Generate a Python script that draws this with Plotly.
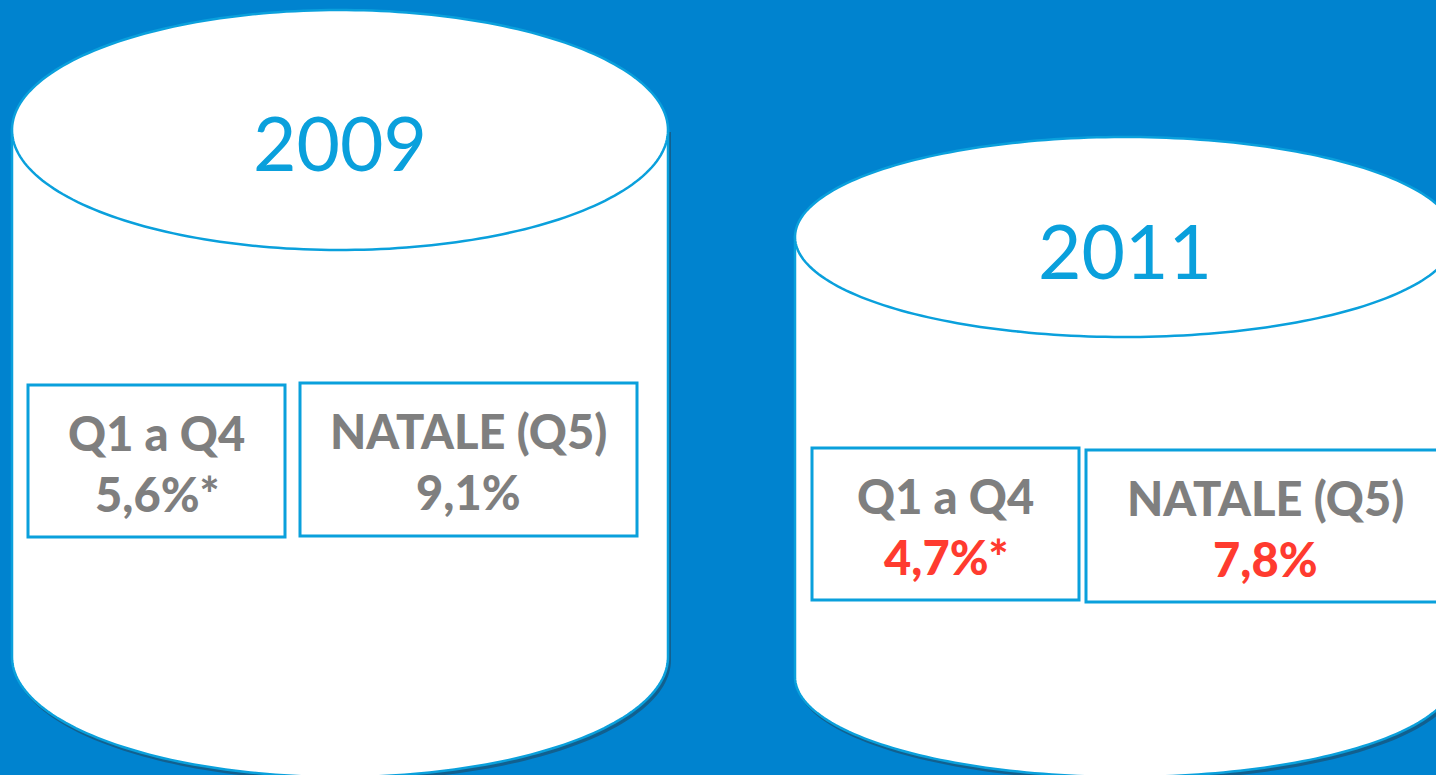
import numpy as np
import plotly.graph_objects as go

# ---- data ----
years = ["2009", "2011"]
period_labels = ["Q1 a Q4", "NATALE (Q5)"]
values_2009 = ["5,6%*", "9,1%"]
values_2011 = ["4,7%*", "7,8%"]
value_colors = ["#7F7F7F", "#FF3B2F"]

# ---- styling / geometry ----
BG = "#0083CF"
EDGE = "#0AA0DC"
SHADOW = "#12608F"
GRAY = "#7F7F7F"
W, H = 1436, 775

cyl = [
    dict(cx=340, a=328, cy=130, b=120, by=657),
    dict(cx=1125, a=330, cy=237, b=100, by=677),
]
boxes = [
    [(28, 385, 285, 537), (300, 383, 637, 536)],
    [(812, 448, 1079, 600), (1086, 450, 1445, 602)],
]
year_y = [142, 250]


def ellipse_pts(cx, cy, a, b, t0, t1, n=120):
    t = np.linspace(t0, t1, n)
    return cx + a * np.cos(t), cy + b * np.sin(t)


def body_path(c, dx=0, dy=0):
    cx, a, cy, b, by = c["cx"] + dx, c["a"], c["cy"] + dy, c["b"], c["by"] + dy
    xs, ys = ellipse_pts(cx, by, a, b, np.pi, 0)
    p = f"M {cx - a},{cy} L {cx - a},{by} "
    p += " ".join(f"L {x:.2f},{y:.2f}" for x, y in zip(xs, ys))
    p += f" L {cx + a},{cy} Z"
    return p


def top_path(c):
    xs, ys = ellipse_pts(c["cx"], c["cy"], c["a"], c["b"], 0, 2 * np.pi, 240)
    p = f"M {xs[0]:.2f},{ys[0]:.2f} " + " ".join(
        f"L {x:.2f},{y:.2f}" for x, y in zip(xs[1:], ys[1:])
    )
    return p + " Z"


fig = go.Figure()
fig.add_trace(go.Scatter(x=[0, W], y=[0, H], mode="markers",
                         marker=dict(opacity=0), hoverinfo="skip",
                         showlegend=False))

shapes = []
annotations = []
all_values = [values_2009, values_2011]
for i, c in enumerate(cyl):
    shapes.append(dict(type="path", path=body_path(c, 2, 3), xref="x", yref="y",
                       fillcolor=SHADOW, line=dict(color=SHADOW, width=2)))
    shapes.append(dict(type="path", path=body_path(c), xref="x", yref="y",
                       fillcolor="white", line=dict(color=EDGE, width=2.5)))
    shapes.append(dict(type="path", path=top_path(c), xref="x", yref="y",
                       fillcolor="white", line=dict(color=EDGE, width=2.5)))
    annotations.append(dict(x=c["cx"], y=year_y[i], xref="x", yref="y",
                            text=years[i], showarrow=False,
                            font=dict(family="Lato", size=75, color=EDGE),
                            xanchor="center", yanchor="middle"))
    for j, (x0, y0, x1, y1) in enumerate(boxes[i]):
        shapes.append(dict(type="rect", x0=x0, y0=y0, x1=x1, y1=y1,
                           xref="x", yref="y", fillcolor="white",
                           line=dict(color=EDGE, width=3)))
        mx = (x0 + x1) / 2
        vcol = value_colors[0] if i == 0 else value_colors[1]
        annotations.append(dict(x=mx, y=y0 + 48, xref="x", yref="y",
                                text=period_labels[j],
                                showarrow=False,
                                font=dict(family="Lato", size=47, color=GRAY,
                                          weight=900),
                                xanchor="center", yanchor="middle"))
        annotations.append(dict(x=mx, y=y0 + 109, xref="x", yref="y",
                                text=all_values[i][j],
                                showarrow=False,
                                font=dict(family="Lato", size=47, color=vcol,
                                          weight=900),
                                xanchor="center", yanchor="middle"))

fig.update_layout(
    width=W, height=H,
    margin=dict(l=0, r=0, t=0, b=0),
    paper_bgcolor=BG, plot_bgcolor=BG,
    shapes=shapes, annotations=annotations,
    xaxis=dict(range=[0, W], visible=False, fixedrange=True),
    yaxis=dict(range=[H, 0], visible=False, fixedrange=True),
    showlegend=False,
)
fig.write_html(
    "out.html",
    config=dict(displayModeBar=False),
    post_script=(
        "document.body.style.margin='0';"
        "document.body.style.padding='0';"
        "document.body.style.background='" + BG + "';"
        "document.documentElement.style.background='" + BG + "';"
        "document.body.style.overflow='hidden';"
    ),
)
